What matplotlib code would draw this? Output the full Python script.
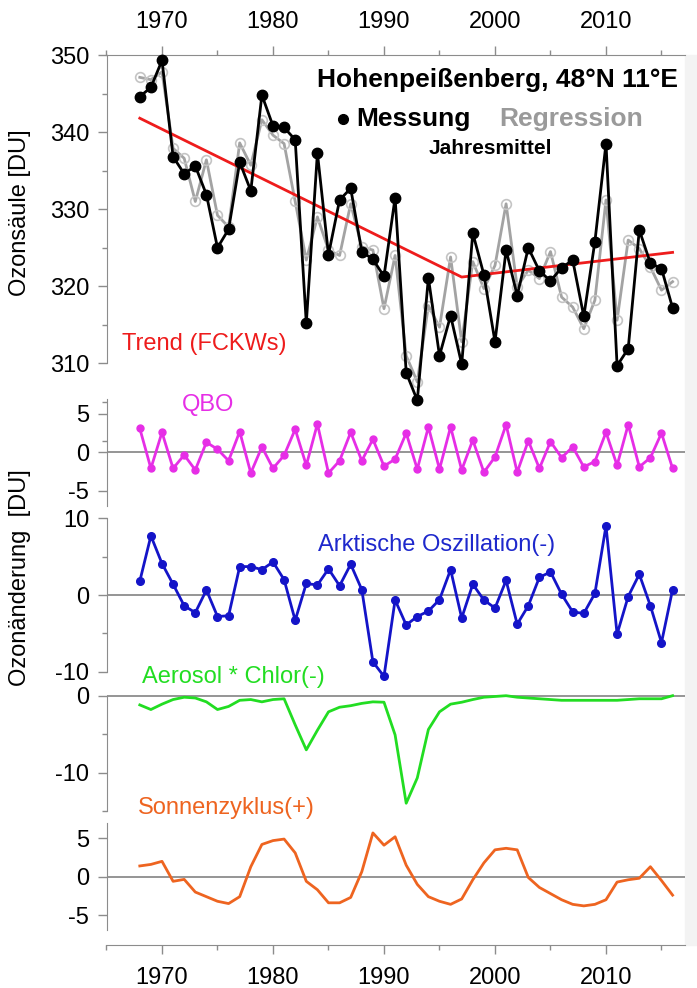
import matplotlib
matplotlib.use("Agg")
import matplotlib.pyplot as plt
from matplotlib.lines import Line2D
from matplotlib.patches import Rectangle
from matplotlib.ticker import MultipleLocator

# annual means, Hohenpeissenberg total ozone and regression terms (DU)
years = list(range(1968, 2017))
ozone_obs = [344.6, 345.8, 349.3, 336.8, 334.6, 335.6, 331.9, 325.0, 327.4, 336.1,
             332.4, 344.8, 340.8, 340.6, 339.0, 315.2, 337.3, 324.1, 331.2, 332.7,
             324.5, 323.5, 321.3, 331.5, 308.8, 305.2, 321.1, 311.0, 316.2, 309.9,
             326.9, 321.5, 312.8, 324.7, 318.8, 325.0, 322.0, 320.7, 322.4, 323.4,
             316.1, 325.8, 338.5, 309.7, 311.9, 327.3, 323.0, 322.3, 317.2]
ozone_reg = [347.1, 346.8, 347.8, 337.9, 336.6, 331.0, 336.4, 329.2, 327.7, 338.6,
             335.7, 341.6, 339.6, 338.5, 331.0, 323.4, 329.0, 324.7, 324.0, 330.7,
             325.1, 324.7, 317.1, 324.0, 311.0, 307.6, 317.5, 314.7, 323.8, 312.8,
             323.2, 319.7, 322.7, 330.7, 319.9, 322.1, 321.0, 324.5, 318.6, 317.3,
             314.5, 318.2, 331.2, 315.6, 326.0, 324.9, 322.5, 319.5, 320.6]
trend_years = [1968, 1997, 2016]
trend_vals = [341.8, 321.2, 324.4]
qbo = [3.1, -2.1, 2.6, -2.1, -0.35, -2.3, 1.3, 0.4, -1.1, 2.7,
       -2.7, 0.7, -2.1, -0.4, 3.0, -1.7, 3.7, -2.7, -1.1, 2.6,
       -1.1, 1.7, -1.8, -0.9, 2.5, -2.2, 3.3, -2.2, 3.3, -2.3,
       1.6, -2.6, -0.6, 3.6, -2.6, 1.5, -2.1, 1.4, -0.7, 0.7,
       -1.9, -1.2, 2.6, -1.7, 3.6, -1.9, -0.7, 2.5, -2.1]
ao = [1.8, 7.7, 4.1, 1.4, -1.4, -2.3, 0.65, -2.8, -2.7, 3.7,
      3.7, 3.3, 4.3, 2.0, -3.3, 1.5, 1.3, 3.4, 1.2, 4.0,
      0.7, -8.7, -10.6, -0.65, -3.9, -2.8, -2.1, -0.6, 3.3, -3.0,
      1.4, -0.65, -1.7, 1.9, -3.8, -1.4, 2.3, 3.0, 0.1, -2.2,
      -2.4, 0.2, 9.0, -5.1, -0.2, 2.7, -1.4, -6.2, 0.7]
aerosol = [-1.2, -1.8, -1.1, -0.5, -0.2, -0.3, -0.8, -1.8, -1.4, -0.6,
           -0.5, -0.8, -0.5, -0.4, -3.8, -7.05, -4.5, -2.1, -1.5, -1.3,
           -1.0, -0.8, -0.85, -5.1, -14.0, -10.7, -4.4, -2.1, -1.1, -0.85,
           -0.5, -0.2, -0.1, 0.0, -0.2, -0.3, -0.4, -0.5, -0.6, -0.6,
           -0.6, -0.6, -0.6, -0.6, -0.5, -0.4, -0.4, -0.4, 0.0]
solar = [1.4, 1.6, 2.0, -0.6, -0.35, -2.0, -2.6, -3.2, -3.5, -2.6,
         1.3, 4.2, 4.7, 4.9, 3.1, -0.6, -1.7, -3.4, -3.4, -2.7,
         0.65, 5.7, 4.1, 5.2, 1.5, -1.0, -2.6, -3.2, -3.6, -2.9,
         -0.4, 1.8, 3.5, 3.7, 3.5, -0.1, -1.4, -2.2, -3.0, -3.6,
         -3.8, -3.6, -3.0, -0.7, -0.4, -0.2, 1.3, -0.5, -2.4]

W, H = 697, 988
X0, X1 = 106.5, 684.8          # pixel extent of the year axis
XLIM = (1965, 2017.1)
GREY = "#8c8c8c"
FS = 17

plt.rcParams["font.family"] = ["Liberation Sans", "DejaVu Sans"]
plt.rcParams["axes.unicode_minus"] = False
fig = plt.figure(figsize=(W / 100, H / 100), dpi=100)
fig.add_artist(Rectangle((685 / W, 1 - 945 / H), 12 / W, 890 / H,
                         transform=fig.transFigure, color="#f3f3f3", zorder=0))


def panel(ylim, ref_px, ref_val, scale=7.68):
    top = ref_px - (ylim[1] - ref_val) * scale
    bot = ref_px + (ref_val - ylim[0]) * scale
    ax = fig.add_axes([X0 / W, 1 - bot / H, (X1 - X0) / W, (bot - top) / H])
    ax.set_xlim(*XLIM)
    ax.set_ylim(*ylim)
    ax.patch.set_visible(False)
    for s in ("top", "right", "bottom"):
        ax.spines[s].set_visible(False)
    ax.spines["left"].set_color(GREY)
    ax.tick_params(axis="y", which="both", colors=GREY, labelcolor="k",
                   labelsize=FS, width=1, pad=6)
    ax.tick_params(axis="y", which="major", length=6.5)
    ax.tick_params(axis="y", which="minor", length=3.5)
    ax.set_xticks([])
    return ax


def ftext(x, y, s, **kw):
    kw.setdefault("va", "center")
    kw.setdefault("fontsize", FS)
    fig.text(x / W, 1 - y / H, s, **kw)


# ozone column
ax1 = panel((300, 350), 55, 350, scale=7.71)
ax1.spines["left"].set_bounds(310, 350)
ax1.spines["top"].set_visible(True)
ax1.spines["top"].set_color(GREY)
ax1.set_yticks([310, 320, 330, 340, 350])
ax1.yaxis.set_minor_locator(MultipleLocator(5))
ax1.xaxis.tick_top()
ax1.set_xticks([1970, 1980, 1990, 2000, 2010])
ax1.xaxis.set_minor_locator(MultipleLocator(5))
ax1.tick_params(axis="x", which="both", colors=GREY, labelcolor="k",
                labelsize=FS, width=1, pad=9)
ax1.tick_params(axis="x", which="major", length=6.5)
ax1.tick_params(axis="x", which="minor", length=3.5)
ax1.plot(years, ozone_reg, color="#a3a3a3", lw=2, marker="o", ms=7,
         mfc="none", mec="#c4c4c4", mew=1.2, clip_on=False, zorder=2)
ax1.plot(trend_years, trend_vals, color="#ee1c1c", lw=2, zorder=3)
ax1.plot(years, ozone_obs, color="k", lw=2, marker="o", ms=7.5,
         clip_on=False, zorder=4)

# QBO
ax2 = panel((-7, 7), 452.3, 0)
ax2.set_yticks([-5, 0, 5])
ax2.axhline(0, color=GREY, lw=1.3, zorder=1)
ax2.plot(years, qbo, color="#e62ee6", lw=2, marker="o", ms=5, clip_on=False)

# Arctic Oscillation
ax3 = panel((-11.5, 10.5), 595, 0)
ax3.spines["left"].set_bounds(-10, 10)
ax3.set_yticks([-10, 0, 10])
ax3.set_yticks([-5, 5], minor=True)
ax3.axhline(0, color=GREY, lw=1.3, zorder=1)
ax3.plot(years, ao, color="#1414c8", lw=2, marker="o", ms=5.5, clip_on=False)

# aerosol * chlorine
ax4 = panel((-15, 0.5), 695.7, 0)
ax4.spines["left"].set_bounds(-15, 0)
ax4.set_yticks([-10, 0])
ax4.set_yticks([-15, -5], minor=True)
ax4.axhline(0, color=GREY, lw=1.3, zorder=1)
ax4.plot(years, aerosol, color="#22dd22", lw=2, clip_on=False)

# solar cycle
ax5 = panel((-7, 7), 876.7, 0)
ax5.set_yticks([-5, 0, 5])
ax5.axhline(0, color=GREY, lw=1.3, zorder=1)
ax5.plot(years, solar, color="#ee6420", lw=2, clip_on=False)

# bottom year axis
axb = fig.add_axes([X0 / W, 1 - 945 / H, (X1 - X0) / W, 5 / H])
axb.set_xlim(*XLIM)
axb.patch.set_visible(False)
for s in ("top", "right", "left"):
    axb.spines[s].set_visible(False)
axb.spines["bottom"].set_color(GREY)
axb.set_yticks([])
axb.set_xticks([1970, 1980, 1990, 2000, 2010])
axb.xaxis.set_minor_locator(MultipleLocator(5))
axb.tick_params(axis="x", which="both", colors=GREY, labelcolor="k",
                labelsize=FS, width=1, pad=9)
axb.tick_params(axis="x", which="major", length=6.5)
axb.tick_params(axis="x", which="minor", length=3.5)

# labels
ftext(20, 213, "Ozonsäule [DU]", rotation=90, ha="center")
ftext(20, 578, "Ozonänderung  [DU]", rotation=90, ha="center")
ftext(678, 80, "Hohenpeißenberg, 48°N 11°E", ha="right", fontsize=19,
      fontweight="bold")
fig.add_artist(Line2D([343 / W], [1 - 119 / H], marker="o", ms=7, color="k",
                      transform=fig.transFigure))
ftext(356, 119, "Messung", fontsize=19, fontweight="bold")
ftext(499, 119, "Regression", fontsize=19, fontweight="bold", color="#9a9a9a")
ftext(490, 148, "Jahresmittel", ha="center", fontsize=15, fontweight="bold")
ftext(122, 344, "Trend (FCKWs)", color="#ee1c1c")
ftext(182, 405, "QBO", color="#e62ee6")
ftext(318, 545, "Arktische Oszillation(-)", color="#1e28cc")
ftext(142, 677, "Aerosol * Chlor(-)", color="#22dd22")
ftext(138, 808, "Sonnenzyklus(+)", color="#ee6420")

fig.savefig("out.png", dpi=100)
